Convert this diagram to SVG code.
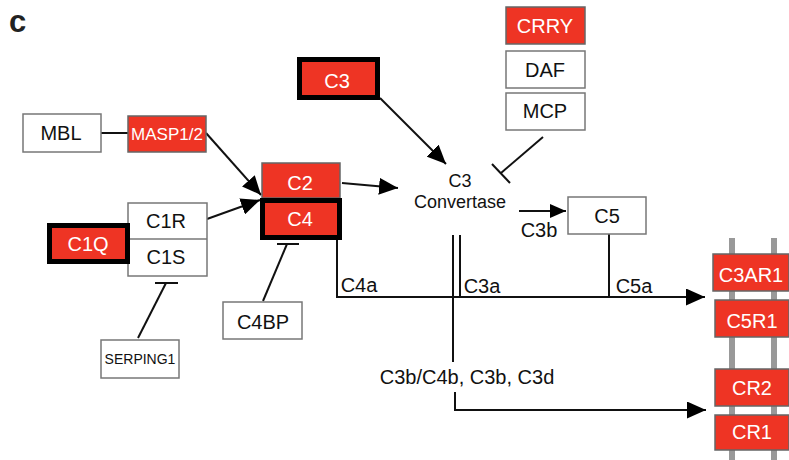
<svg xmlns="http://www.w3.org/2000/svg" width="789" height="460" viewBox="0 0 789 460">
<defs>
<style>
.t{font-family:"Liberation Sans",Arial,sans-serif;font-size:20px;text-anchor:middle}
.w{fill:#fff}
.k{fill:#111}
.wb{fill:#fff;stroke:#777;stroke-width:1.5}
.rb{fill:#EE3424;stroke:#666;stroke-width:1.5}
.tb{fill:#EE3424;stroke:#000;stroke-width:5}
.ln{fill:none;stroke:#111;stroke-width:2}
.mem{stroke:#999;stroke-width:6}
</style>
<marker id="ah" markerUnits="userSpaceOnUse" markerWidth="19" markerHeight="17" refX="19" refY="8.5" orient="auto"><path d="M0,0 L19,8.5 L0,17 z" fill="#000"/></marker>
<marker id="ahs" markerUnits="userSpaceOnUse" markerWidth="16" markerHeight="14" refX="16" refY="7" orient="auto"><path d="M0,0 L16,7 L0,14 z" fill="#000"/></marker>
</defs>
<rect width="789" height="460" fill="#fff"/>
<text x="9" y="32" style="font-family:'Liberation Sans',Arial,sans-serif;font-size:31px;font-weight:bold" fill="#222">c</text>

<g id="membrane">
<line class="mem" x1="732" y1="238" x2="732" y2="460"/>
<line class="mem" x1="774" y1="238" x2="774" y2="460"/>
</g>

<g id="connectors">
<line class="ln" x1="101" y1="133" x2="128" y2="133"/>
<line class="ln" x1="206" y1="133" x2="261" y2="195" marker-end="url(#ah)"/>
<line class="ln" x1="207" y1="219" x2="260" y2="200" marker-end="url(#ah)"/>
<line class="ln" x1="342" y1="183" x2="398" y2="188" marker-end="url(#ah)"/>
<line class="ln" x1="380" y1="98" x2="446" y2="164" marker-end="url(#ah)"/>
<line class="ln" x1="543" y1="137" x2="501" y2="173"/>
<line class="ln" x1="492" y1="164" x2="510" y2="183"/>
<line class="ln" x1="519" y1="211" x2="566" y2="211" marker-end="url(#ahs)"/>
<line class="ln" x1="138" y1="338" x2="166" y2="283"/>
<line class="ln" x1="155" y1="283" x2="178" y2="283"/>
<line class="ln" x1="263" y1="301" x2="287" y2="244"/>
<line class="ln" x1="277" y1="244" x2="299" y2="244"/>
<path class="ln" d="M337,240 V297 H705" marker-end="url(#ah)"/>
<line class="ln" x1="609" y1="234" x2="609" y2="297"/>
<line class="ln" x1="453" y1="235" x2="453" y2="362"/>
<line class="ln" x1="460" y1="235" x2="460" y2="297"/>
<path class="ln" d="M455,392 V410 H706" marker-end="url(#ah)"/>
</g>

<g id="labels">
<text class="t k" x="359" y="292">C4a</text>
<text class="t k" x="482" y="293">C3a</text>
<text class="t k" x="634" y="293">C5a</text>
<text class="t k" x="539" y="237">C3b</text>
<text class="t k" x="467" y="384">C3b/C4b, C3b, C3d</text>
</g>

<g id="convertase">
<text class="t k" x="460" y="187" style="font-size:18px">C3</text>
<text class="t k" x="460" y="208" style="font-size:18px">Convertase</text>
</g>

<g id="C3"><rect class="tb" x="299.5" y="59.5" width="78" height="38"/><text class="t w" x="337" y="88">C3</text></g>
<g id="MBL"><rect class="wb" x="23" y="114" width="78" height="38"/><text class="t k" x="61" y="140">MBL</text></g>
<g id="MASP12"><rect class="rb" x="128" y="116" width="78" height="36"/><text class="t w" x="167" y="140" style="font-size:17px">MASP1/2</text></g>
<g id="C2"><rect class="rb" x="262" y="163" width="78" height="35"/><text class="t w" x="300" y="190">C2</text></g>
<g id="C4"><rect class="tb" x="262.5" y="200.5" width="77" height="37"/><text class="t w" x="300" y="226">C4</text></g>
<g id="C1RC1S"><rect class="wb" x="128" y="203" width="79" height="73"/><line x1="128" y1="239" x2="207" y2="239" stroke="#777" stroke-width="1.5"/><text class="t k" x="166" y="228">C1R</text><text class="t k" x="166" y="264">C1S</text></g>
<g id="C1Q"><rect class="tb" x="49.5" y="225.5" width="78" height="36"/><text class="t w" x="88" y="251">C1Q</text></g>
<g id="SERPING1"><rect class="wb" x="101" y="340" width="78" height="38"/><text class="t k" x="140" y="364" style="font-size:14px">SERPING1</text></g>
<g id="C4BP"><rect class="wb" x="223" y="302" width="79" height="37"/><text class="t k" x="263" y="329">C4BP</text></g>
<g id="CRRY"><rect class="rb" x="506" y="7" width="79" height="37"/><text class="t w" x="545" y="33">CRRY</text></g>
<g id="DAF"><rect class="wb" x="506" y="51" width="79" height="37"/><text class="t k" x="545" y="77">DAF</text></g>
<g id="MCP"><rect class="wb" x="506" y="93" width="79" height="37"/><text class="t k" x="545" y="118">MCP</text></g>
<g id="C5"><rect class="wb" x="568" y="197" width="78" height="37"/><text class="t k" x="607" y="223">C5</text></g>
<g id="C3AR1"><rect class="rb" x="713" y="254" width="76" height="37"/><text class="t w" x="751" y="282">C3AR1</text></g>
<g id="C5R1"><rect class="rb" x="715" y="300" width="74" height="37"/><text class="t w" x="752" y="328">C5R1</text></g>
<g id="CR2"><rect class="rb" x="715" y="369" width="74" height="37"/><text class="t w" x="752" y="395">CR2</text></g>
<g id="CR1"><rect class="rb" x="715" y="415" width="74" height="35"/><text class="t w" x="752" y="439">CR1</text></g>
</svg>
